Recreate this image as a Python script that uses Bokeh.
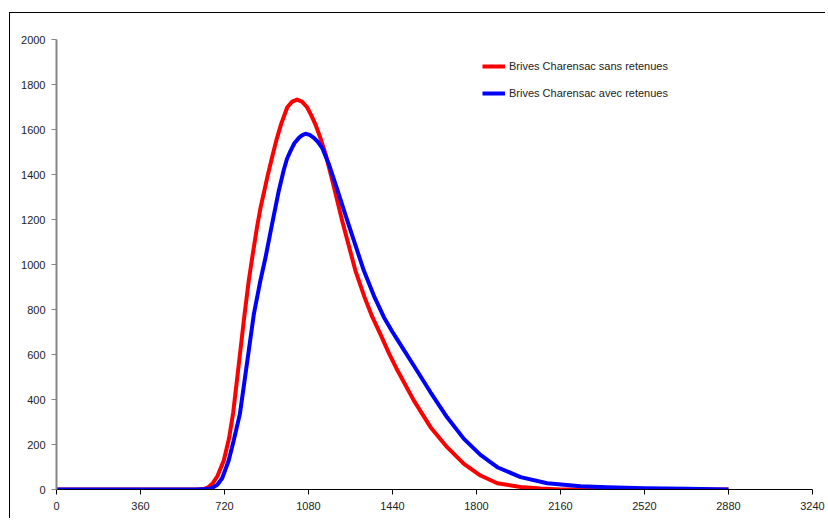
from bokeh.plotting import figure
from bokeh.models import Range1d, FixedTicker, Legend, LegendItem
from bokeh.embed import file_html
from bokeh.resources import INLINE

# ---- data ----
series_names = ["Brives Charensac sans retenues", "Brives Charensac avec retenues"]

x_sans = [0, 360, 600, 630, 650, 670, 690, 717, 740, 757, 775, 790, 805, 824, 839, 860,
          875, 891, 905, 924, 943, 963, 989, 1010, 1031, 1052, 1074, 1092, 1110, 1130,
          1153, 1189, 1224, 1281, 1320, 1353, 1389, 1425, 1460, 1531, 1603, 1674, 1746,
          1817, 1889, 1989, 2074, 2160, 2520, 2880]
y_sans = [0, 0, 0, 2, 10, 28, 60, 129, 230, 340, 500, 635, 770, 929, 1032, 1170,
          1255, 1329, 1395, 1477, 1555, 1625, 1699, 1724, 1733, 1724, 1699, 1663, 1622, 1565,
          1492, 1344, 1196, 973, 855, 768, 688, 605, 532, 396, 277, 188, 114,
          62, 28, 11, 4, 0, 0, 0]

x_avec = [0, 360, 600, 650, 670, 690, 710, 738, 760, 786, 806, 826, 846, 874, 896, 924,
          953, 974, 988, 1003, 1020, 1039, 1052, 1067, 1085, 1103, 1120, 1139, 1167, 1200,
          1246, 1317, 1360, 1403, 1440, 1460, 1531, 1603, 1674, 1746, 1817, 1889, 1989,
          2103, 2246, 2360, 2520, 2700, 2880]
y_avec = [0, 0, 0, 2, 8, 22, 50, 129, 220, 336, 484, 632, 781, 929, 1032, 1181,
          1329, 1420, 1470, 1505, 1540, 1563, 1574, 1581, 1576, 1563, 1545, 1518, 1447, 1344,
          1196, 973, 862, 766, 700, 667, 551, 432, 321, 225, 154, 99, 55,
          28, 14, 10, 6, 3, 0]

x_ticks = [0, 360, 720, 1080, 1440, 1800, 2160, 2520, 2880, 3240]
y_ticks = [0, 200, 400, 600, 800, 1000, 1200, 1400, 1600, 1800, 2000]

FONT = "Liberation Sans"
TXT = "#222222"

p = figure(width=816, height=506, x_range=Range1d(0, 3240), y_range=Range1d(0, 2000),
           output_backend="svg", toolbar_location=None,
           min_border_left=46, min_border_right=14, min_border_top=26, min_border_bottom=30)
p.margin = (12, 0, 0, 9)
p.styles = {"border-left": "1px solid #000000", "border-top": "1px solid #000000"}
p.background_fill_color = "white"
p.border_fill_color = "white"
p.outline_line_color = None
p.xgrid.visible = False
p.ygrid.visible = False

r1 = p.line(x_sans, y_sans, line_color="#FF0000", line_width=4, line_join="round")
r2 = p.line(x_avec, y_avec, line_color="#0000FF", line_width=4, line_join="round")

p.xaxis.ticker = FixedTicker(ticks=x_ticks)
p.yaxis.ticker = FixedTicker(ticks=y_ticks)
for ax in (p.xaxis[0], p.yaxis[0]):
    ax.minor_tick_line_color = None
    ax.major_tick_in = 0
    ax.major_tick_out = 5
    ax.major_label_text_font = FONT
    ax.major_label_text_font_size = "11px"
    ax.major_label_text_color = TXT
p.xaxis.axis_line_color = "#000000"
p.xaxis.major_tick_line_color = "#000000"
p.xaxis.major_label_standoff = 7
p.yaxis.axis_line_color = "#868686"
p.yaxis.axis_line_width = 2
p.yaxis.major_tick_line_color = "#868686"
p.yaxis.major_label_standoff = 6

legend = Legend(items=[LegendItem(label=series_names[0], renderers=[r1]),
                       LegendItem(label=series_names[1], renderers=[r2])],
                location=(426, 388))
legend.padding = 0
legend.margin = 0
legend.border_line_color = None
legend.background_fill_alpha = 0
legend.glyph_width = 23
legend.glyph_height = 16
legend.label_height = 16
legend.spacing = 11
legend.label_standoff = 4
legend.label_text_font = FONT
legend.label_text_font_size = "11px"
legend.label_text_color = TXT
p.add_layout(legend)

open("out.html", "w").write(file_html(p, INLINE))
